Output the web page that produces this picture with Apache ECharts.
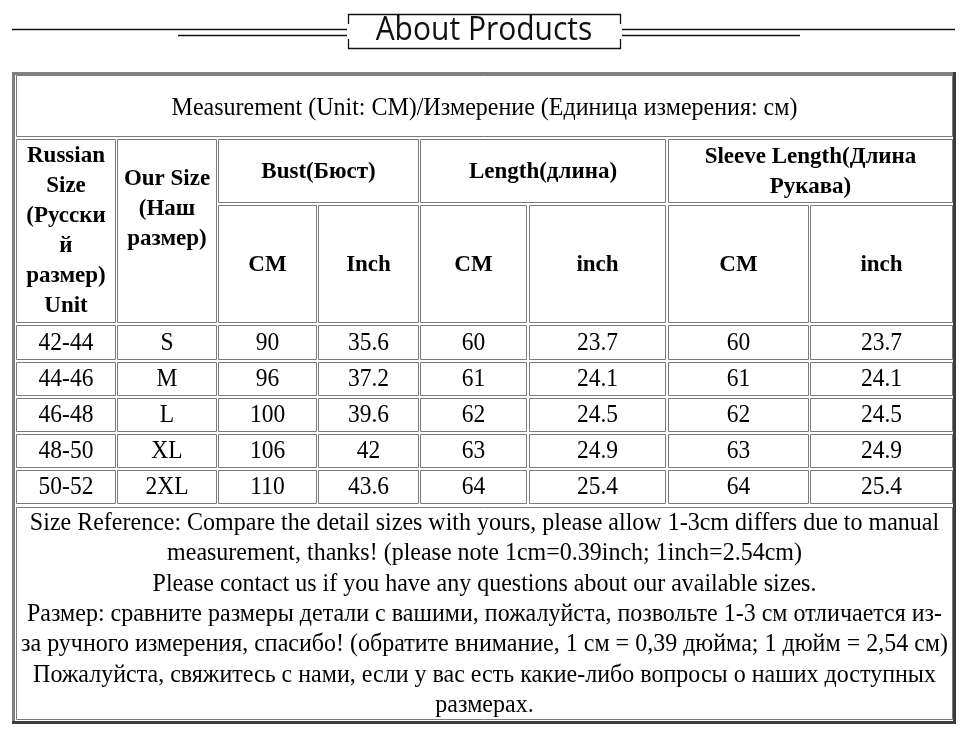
<!DOCTYPE html>
<html><head><meta charset="utf-8">
<script src="https://cdn.jsdelivr.net/npm/echarts@6/dist/echarts.min.js"></script>
<style>html,body{margin:0;padding:0;background:#fff}#c{width:964px;height:734px}</style>
</head><body><div id="c"></div>
<script>
// ---- data ----
const pageTitle = 'About Products';
const tableTitle = 'Measurement (Unit: CM)/Измерение (Единица измерения: см)';
const headRussian = 'Russian\nSize\n(Русски\nй\nразмер)\nUnit';
const headOur = 'Our Size\n(Наш\nразмер)';
const groupHeads = ['Bust(Бюст)', 'Length(длина)', 'Sleeve Length(Длина\nРукава)'];
const unitHeads = ['CM', 'Inch', 'CM', 'inch', 'CM', 'inch'];
const russianSizes = ['42-44', '44-46', '46-48', '48-50', '50-52'];
const ourSizes = ['S', 'M', 'L', 'XL', '2XL'];
const bustCm = [90, 96, 100, 106, 110];
const bustInch = [35.6, 37.2, 39.6, 42, 43.6];
const lengthCm = [60, 61, 62, 63, 64];
const lengthInch = [23.7, 24.1, 24.5, 24.9, 25.4];
const sleeveCm = [60, 61, 62, 63, 64];
const sleeveInch = [23.7, 24.1, 24.5, 24.9, 25.4];
const noteLines = [
  'Size Reference: Compare the detail sizes with yours, please allow 1-3cm differs due to manual',
  'measurement, thanks! (please note 1cm=0.39inch; 1inch=2.54cm)',
  'Please contact us if you have any questions about our available sizes.',
  'Размер: сравните размеры детали с вашими, пожалуйста, позвольте 1-3 см отличается из-',
  'за ручного измерения, спасибо! (обратите внимание, 1 см = 0,39 дюйма; 1 дюйм = 2,54 см)',
  'Пожалуйста, свяжитесь с нами, если у вас есть какие-либо вопросы о наших доступных',
  'размерах.'
];

// ---- layout ----
const colEdges = [[16,115],[117,216],[218,316],[318,418],[420,526],[529,665],[668,808],[810,952]];
const titleRow = [75,136];
const headRow1 = [139,202];
const headRow2 = [205,322];
const dataRows = [[325,359],[362,395],[398,431],[434,467],[470,503]];
const noteRow = [507,719];
const FONT = '"Liberation Serif","Times New Roman",serif';

// build cells: [x0,y0,x1,y1], text, bold, yShift
const cells = [];
function add(c0, c1, r, text, bold, fs, shift, lh, sx, sy) {
  cells.push({ box: [colEdges[c0][0], r[0], colEdges[c1][1], r[1]], text: String(text), bold: !!bold, fs: fs,
    shift: shift || 0, lh: lh || 30, sx: sx || 1, sy: sy || 1 });
}
add(0, 7, titleRow, tableTitle, false, 24, 2, 30, 1, 1.05);
add(0, 0, [headRow1[0], headRow2[1]], headRussian, true, 23, 0);
add(1, 1, [headRow1[0], headRow2[1]], headOur, true, 23, -22);
groupHeads.forEach((h, i) => add(2 + i * 2, 3 + i * 2, headRow1, h, true, 23, 1));
unitHeads.forEach((h, i) => add(2 + i, 2 + i, headRow2, h, true, 23, 1));
const cols = [russianSizes, ourSizes, bustCm, bustInch, lengthCm, lengthInch, sleeveCm, sleeveInch];
dataRows.forEach((r, ri) => cols.forEach((arr, ci) => add(ci, ci, r, arr[ri], false, 23.5, 1, 30, 1, 1.04)));
add(0, 7, noteRow, noteLines.join('\n'), false, 24, 1, 29.2, 1, 1.04);

const chart = echarts.init(document.getElementById('c'), null, { renderer: 'canvas' });
chart.setOption({
  backgroundColor: '#ffffff',
  animation: false,
  grid: { left: 0, top: 0, width: 964, height: 734 },
  xAxis: { type: 'value', min: 0, max: 964, show: false },
  yAxis: { type: 'value', min: 0, max: 734, inverse: true, show: false },
  graphic: [
    // outer table border (outset)
    { type: 'polyline', shape: { points: [[13.5, 722.5], [13.5, 73.5], [954.5, 73.5]] }, style: { stroke: '#808080', lineWidth: 3, fill: null } },
    { type: 'polyline', shape: { points: [[954.5, 72], [954.5, 722.5], [12, 722.5]] }, style: { stroke: '#3c3c3c', lineWidth: 3, fill: null } },
    // decorative title lines
    { type: 'line', shape: { x1: 12, y1: 29.5, x2: 347, y2: 29.5 }, style: { stroke: '#111', lineWidth: 1.3 } },
    { type: 'line', shape: { x1: 178, y1: 35.5, x2: 347, y2: 35.5 }, style: { stroke: '#111', lineWidth: 1.3 } },
    { type: 'line', shape: { x1: 622, y1: 29.5, x2: 955, y2: 29.5 }, style: { stroke: '#111', lineWidth: 1.3 } },
    { type: 'line', shape: { x1: 622, y1: 35.5, x2: 800, y2: 35.5 }, style: { stroke: '#111', lineWidth: 1.3 } },
    { type: 'polyline', shape: { points: [[348.5, 24], [348.5, 14.5], [620.5, 14.5], [620.5, 24]] }, style: { stroke: '#111', lineWidth: 1.3, fill: null } },
    { type: 'polyline', shape: { points: [[348.5, 39], [348.5, 48.5], [620.5, 48.5], [620.5, 39]] }, style: { stroke: '#111', lineWidth: 1.3, fill: null } },
    { type: 'text', x: 484, y: 31, scaleY: 1.1, style: { text: pageTitle, align: 'center', verticalAlign: 'middle', font: '30px "Open Sans","Noto Sans",sans-serif', fill: '#111' } }
  ],
  series: [{
    type: 'custom',
    coordinateSystem: 'cartesian2d',
    clip: false,
    encode: { x: [0, 2], y: [1, 3] },
    data: cells.map(c => c.box),
    renderItem: function (params, api) {
      const c = cells[params.dataIndex];
      const p0 = api.coord([api.value(0), api.value(1)]);
      const p1 = api.coord([api.value(2), api.value(3)]);
      const x0 = Math.round(p0[0]) + 0.5, y0 = Math.round(p0[1]) + 0.5;
      const x1 = Math.round(p1[0]) + 0.5, y1 = Math.round(p1[1]) + 0.5;
      return {
        type: 'group',
        children: [
          { type: 'rect', shape: { x: x0, y: y0, width: x1 - x0, height: y1 - y0 }, style: { fill: '#fff', stroke: '#7a7a7a', lineWidth: 1 } },
          { type: 'text', x: (x0 + x1) / 2, y: (y0 + y1) / 2 + c.shift, scaleX: c.sx, scaleY: c.sy,
            style: { text: c.text, align: 'center', verticalAlign: 'middle', lineHeight: c.lh,
              font: (c.bold ? 'bold ' : '') + c.fs + 'px ' + FONT, fill: '#000' } }
        ]
      };
    }
  }]
});
</script></body></html>
